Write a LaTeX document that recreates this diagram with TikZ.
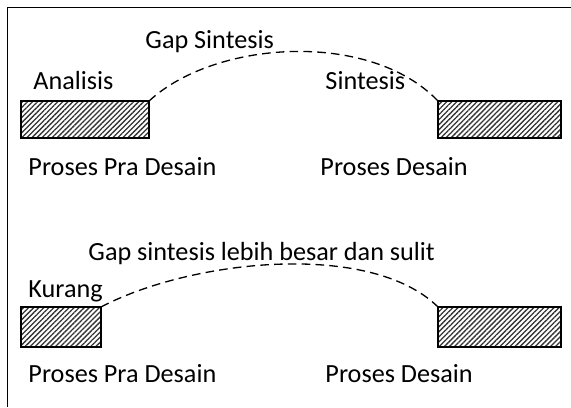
\documentclass[tikz,border=0pt]{standalone}
\usepackage{fontspec}
\setmainfont{Carlito}
\usetikzlibrary{patterns.meta}
\tikzset{
	lbl/.style={
		anchor=base west,
		inner sep=0pt,
		font=\fontsize{11}{13}\selectfont
	},
	proc/.style={
		draw,
		line width=0.7pt,
		inner sep=0pt,
		outer sep=0pt,
		anchor=north west,
		pattern={Lines[angle=45,distance=1.5pt,line width=0.55pt]},
		pattern color=black!80
	},
	gap/.style={
		dash pattern=on 3.6pt off 2.2pt,
		line width=0.55pt
	},
	frame/.style={line width=0.8pt},
}

\begin{document}
\begin{tikzpicture}[x=0.42pt,y=-0.42pt]
		\useasboundingbox (0,0) rectangle (571,407);
		\draw[frame] (571,7.5) -- (7.5,7.5) -- (7.5,407);

		% proses atas
		\node[proc,minimum width=53.8pt,minimum height=15.5pt] (pra)    at (21,101)  {};
		\node[proc,minimum width=51.7pt,minimum height=15.5pt] (desain) at (438,101) {};
		\node[lbl] (analisis)  at (33,90)   {Analisis};
		\node[lbl] (sintesis)  at (325,89)  {Sintesis};
		\node[lbl] (gapsin)    at (145,49)  {Gap Sintesis};
		\node[lbl] (prapro)    at (28,175)  {Proses Pra Desain};
		\node[lbl] (despro)    at (320,175) {Proses Desain};

		% proses bawah
		\node[proc,minimum width=33.6pt,minimum height=16.8pt] (pra2)    at (21,307)  {};
		\node[proc,minimum width=51.7pt,minimum height=16.8pt] (desain2) at (438,307) {};
		\node[lbl] (kurang)   at (28,297)  {Kurang};
		\node[lbl] (gapsin2)  at (88,260)  {Gap sintesis lebih besar dan sulit};
		\node[lbl] (prapro2)  at (28,382)  {Proses Pra Desain};
		\node[lbl] (despro2)  at (325,382) {Proses Desain};

		\draw[gap] (pra.north east) .. controls (215,40) and (370,30) .. (desain.north west);
		\draw[gap] (pra2.north east) .. controls (190,260) and (370,240) .. (desain2.north west);

	\end{tikzpicture}
\end{document}
